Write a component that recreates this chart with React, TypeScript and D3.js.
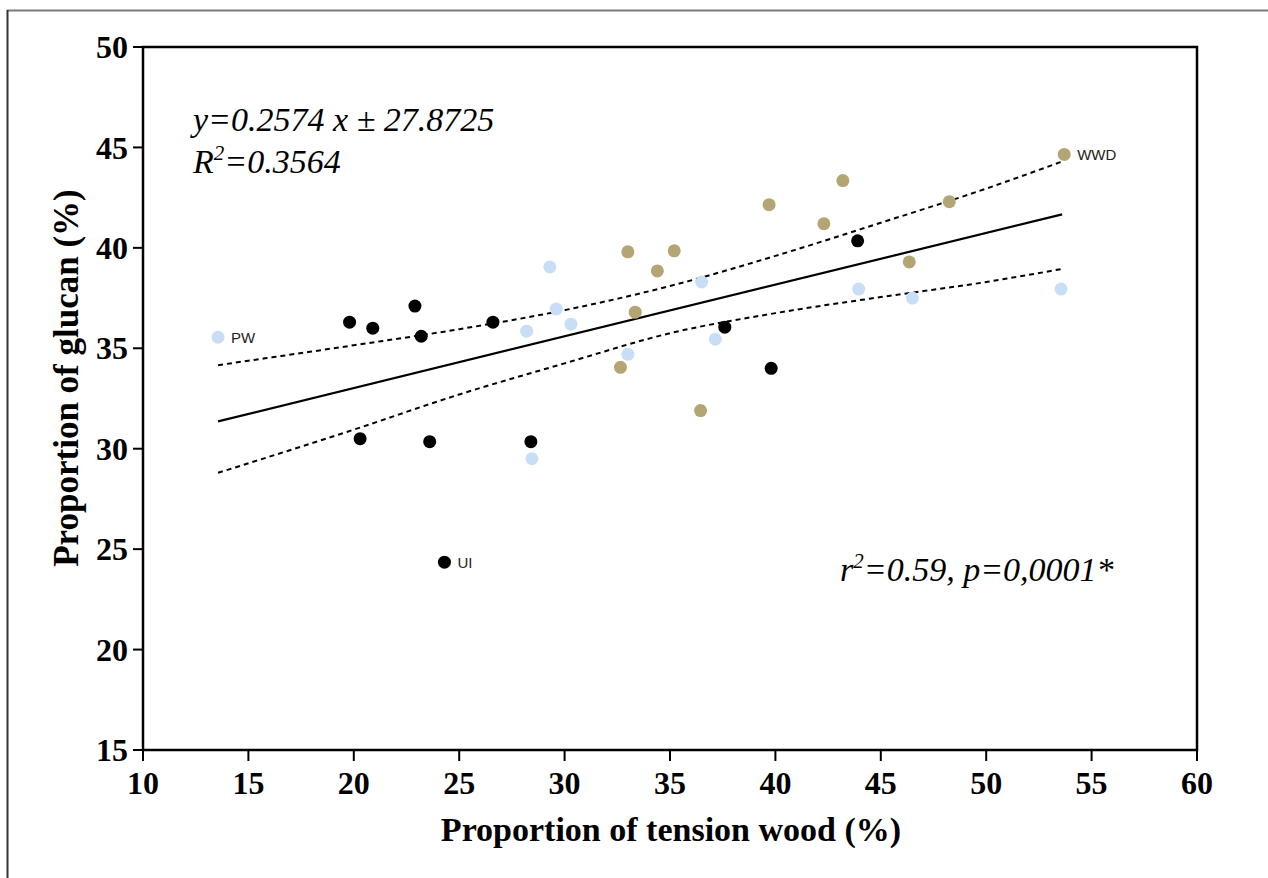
import React from "react";
import * as d3 from "d3";

const W = 1268;
const H = 878;

// Data: x = proportion of tension wood (%), y = proportion of glucan (%)
const uiX = [19.8, 20.9, 22.9, 23.2, 26.6, 20.3, 23.6, 28.4, 24.3, 43.9, 37.6, 39.8];
const uiY = [36.3, 36.0, 37.1, 35.6, 36.3, 30.5, 30.35, 30.35, 24.35, 40.35, 36.05, 34.0];

const pwX = [13.56, 29.3, 29.6, 28.2, 30.3, 28.45, 33.0, 36.5, 37.15, 43.95, 46.5, 53.55];
const pwY = [35.55, 39.05, 36.95, 35.85, 36.2, 29.5, 34.7, 38.3, 35.45, 37.95, 37.5, 37.95];

const wwdX = [33.0, 35.2, 34.4, 33.35, 32.65, 36.45, 39.7, 43.2, 42.3, 48.25, 46.35, 53.7];
const wwdY = [39.8, 39.85, 38.85, 36.8, 34.05, 31.9, 42.15, 43.35, 41.2, 42.3, 39.3, 44.65];

// Regression (from annotation) and 95% confidence band
const slope = 0.2574;
const intercept = 27.8725;
const fitRange = [13.56, 53.6];
const bandX = [13.56, 20, 25, 30, 35, 40, 45, 50, 53.6];
const bandUpper = [34.16, 35.15, 35.95, 36.9, 38.1, 39.6, 41.25, 42.95, 44.3];
const bandLower = [28.8, 30.95, 32.7, 34.25, 35.75, 36.75, 37.55, 38.3, 38.95];

const xTicks = [10, 15, 20, 25, 30, 35, 40, 45, 50, 55, 60];
const yTicks = [15, 20, 25, 30, 35, 40, 45, 50];

const groups = [
  { name: "UI", xs: uiX, ys: uiY, color: "#000000", labelIdx: 8 },
  { name: "PW", xs: pwX, ys: pwY, color: "#c8ddf6", labelIdx: 0 },
  { name: "WWD", xs: wwdX, ys: wwdY, color: "#b4a574", labelIdx: 11 },
];

export default function App() {
  const left = 143;
  const right = 1197;
  const top = 47;
  const bottom = 750;
  const x = d3.scaleLinear().domain([10, 60]).range([left, right]);
  const y = d3.scaleLinear().domain([15, 50]).range([bottom, top]);

  const fitLine = d3
    .line<number>()
    .x((d) => x(d))
    .y((d) => y(slope * d + intercept));
  const upperLine = d3
    .line<number>()
    .x((d) => x(d))
    .y((_, i) => y(bandUpper[i]))
    .curve(d3.curveMonotoneX);
  const lowerLine = d3
    .line<number>()
    .x((d) => x(d))
    .y((_, i) => y(bandLower[i]))
    .curve(d3.curveMonotoneX);

  const serif = "'Liberation Serif', 'Times New Roman', serif";
  const sans = "'Liberation Sans', Arial, sans-serif";

  return (
    <div style={{ position: "fixed", left: 0, top: 0, width: W, height: H, background: "#fff" }}>
      <svg width={W} height={H} style={{ display: "block" }}>
        <rect x={0} y={0} width={W} height={H} fill="#fff" />
        {/* outer frame */}
        <line x1={7} y1={10.5} x2={W} y2={10.5} stroke="#7a7a7a" strokeWidth={2} />
        <line x1={7.5} y1={10} x2={7.5} y2={H} stroke="#333" strokeWidth={2} />

        {/* plot box */}
        <rect x={left} y={top} width={right - left} height={bottom - top} fill="none" stroke="#000" strokeWidth={2.5} />

        {/* y ticks */}
        {yTicks.map((t) => (
          <g key={"y" + t}>
            <line x1={left - 10} x2={left} y1={y(t)} y2={y(t)} stroke="#000" strokeWidth={2} />
            <text
              x={left - 15}
              y={y(t)}
              dy="0.35em"
              textAnchor="end"
              fontFamily={serif}
              fontWeight="bold"
              fontSize={32}
            >
              {t}
            </text>
          </g>
        ))}
        {/* x ticks */}
        {xTicks.map((t) => (
          <g key={"x" + t}>
            <line x1={x(t)} x2={x(t)} y1={bottom} y2={bottom + 11} stroke="#000" strokeWidth={2} />
            <text
              x={x(t)}
              y={bottom + 44}
              textAnchor="middle"
              fontFamily={serif}
              fontWeight="bold"
              fontSize={32}
            >
              {t}
            </text>
          </g>
        ))}

        {/* axis titles */}
        <text
          x={671}
          y={841}
          textAnchor="middle"
          fontFamily={serif}
          fontWeight="bold"
          fontSize={34}
        >
          Proportion of tension wood (%)
        </text>
        <text
          transform={`translate(78, 378) rotate(-90)`}
          textAnchor="middle"
          fontFamily={serif}
          fontWeight="bold"
          fontSize={35}
        >
          Proportion of glucan (%)
        </text>

        {/* regression and confidence band */}
        <path d={fitLine(fitRange) ?? ""} fill="none" stroke="#000" strokeWidth={2.2} />
        <path d={upperLine(bandX) ?? ""} fill="none" stroke="#000" strokeWidth={2} strokeDasharray="5,4" />
        <path d={lowerLine(bandX) ?? ""} fill="none" stroke="#000" strokeWidth={2} strokeDasharray="5,4" />

        {/* points */}
        {groups.map((g) => (
          <g key={g.name}>
            {g.xs.map((xv, i) => (
              <circle key={i} cx={x(xv)} cy={y(g.ys[i])} r={6.5} fill={g.color} />
            ))}
            <text
              x={x(g.xs[g.labelIdx]) + 13}
              y={y(g.ys[g.labelIdx])}
              dy="0.36em"
              fontFamily={sans}
              fontSize={15}
              fill="#222"
            >
              {g.name}
            </text>
          </g>
        ))}

        {/* annotations */}
        <text x={193} y={131} fontFamily={serif} fontStyle="italic" fontSize={34}>
          y=0.2574 x ± 27.8725
        </text>
        <text x={193} y={173} fontFamily={serif} fontStyle="italic" fontSize={34}>
          R<tspan dy={-13} fontSize={21}>2</tspan>
          <tspan dy={13}>=0.3564</tspan>
        </text>
        <text x={840} y={581} fontFamily={serif} fontStyle="italic" fontSize={34}>
          r<tspan dy={-13} fontSize={21}>2</tspan>
          <tspan dy={13}>=0.59, p=0,0001*</tspan>
        </text>
      </svg>
    </div>
  );
}
